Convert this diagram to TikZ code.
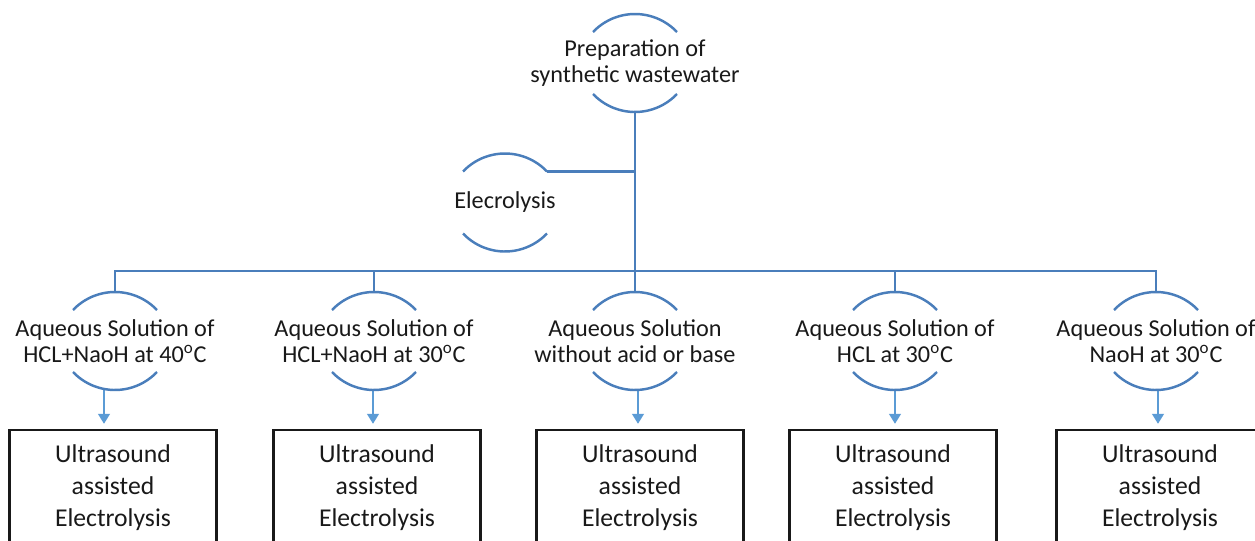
\documentclass[tikz,border=0pt]{standalone}
\usepackage{fontspec}
\setmainfont{Carlito}
\usetikzlibrary{positioning}
\usetikzlibrary{arrows.meta}

\definecolor{ringblue}{RGB}{74,126,187}
\definecolor{arrowblue}{RGB}{91,155,213}

\begin{document}
\begin{tikzpicture}[line width = 1.4pt,
    ring/.style = {align = center, text = black!90, font = \fontsize{13.8}{14.8}\selectfont},
    usbox/.style = {draw = black!90, line width = 1.4pt, align = center, text = black!90,
        minimum width = 4.14cm, minimum height = 2.32cm, font = \fontsize{14.6}{18.2}\selectfont},
    link/.style = {ringblue, line width = 1.4pt},
    flow/.style = {arrowblue, line width = 0.8pt, -{Triangle[width = 0.24cm, length = 0.2cm]}, shorten > = 0.1cm}]

    \useasboundingbox (0,0) rectangle (25.1,-10.82);

    % top of the tree
    \node (prep) at (12.7,-1.26) [ring] {Preparation of\\synthetic wastewater};
    \node (elec) at (10.1,-4.05) [ring] {Elecrolysis};

    \coordinate (fork) at (12.7,-5.42);

    % the five solutions and their boxes
    \foreach \i/\x/\ux/\ax/\txt in {
        1/2.30/2.26/2.08/{Aqueous Solution of\\HCL+NaoH at 40\textsuperscript{o}C},
        2/7.48/7.54/7.46/{Aqueous Solution of\\HCL+NaoH at 30\textsuperscript{o}C},
        3/12.70/12.80/12.76/{Aqueous Solution\\without acid or base},
        4/17.90/17.86/17.90/{Aqueous Solution of\\HCL at 30\textsuperscript{o}C},
        5/23.12/23.20/23.16/{Aqueous Solution of\\NaoH at 30\textsuperscript{o}C}} {
        \node (aq\i) at (\x,-6.82) [ring] {\txt};
        \node (us\i) at (\ux,-9.76) [usbox] {Ultrasound\\assisted\\Electrolysis};
        \path (aq\i.center) ++(0,0.98) coordinate (aq\i-t);
        \path (\ax,-7.8) coordinate (a\i);
        \draw[link] (fork) -| (aq\i-t);
        \draw[flow] (a\i) -- (a\i |- us\i.north);
    }

    % arcs above and below each label
    \foreach \n in {prep, elec, aq1, aq2, aq3, aq4, aq5} {
        \draw[link] (\n.center) ++(-0.84,0.62) arc[start angle = 136.4, end angle = 43.6, radius = 1.16cm]
                    (\n.center) ++(-0.84,-0.62) arc[start angle = 223.6, end angle = 316.4, radius = 1.16cm];
    }

    \path (prep.center) ++(0,-0.98) coordinate (prep-b);
    \path (elec.center) ++(0.84,0.62) coordinate (elec-r);

    \draw[link] (prep-b) -- (fork);
    \draw[link] (elec-r) -- (elec-r -| fork);

\end{tikzpicture}
\end{document}
